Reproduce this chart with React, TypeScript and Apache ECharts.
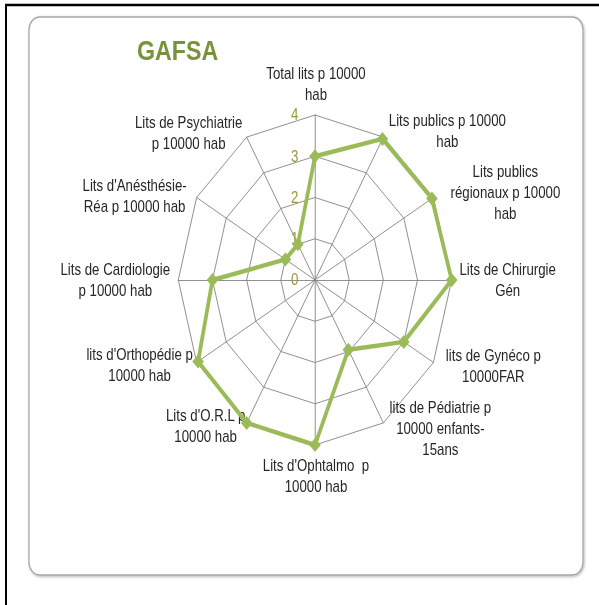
import React, { useEffect, useRef } from "react";
import * as echarts from "echarts";

// ---- data (reference order, clockwise from the top) ----
const categories = [
  "Total lits p 10000\nhab",
  "Lits publics p 10000\nhab",
  "Lits publics\nrégionaux p 10000\nhab",
  "Lits de Chirurgie\nGén",
  "lits de Gynéco p\n10000FAR",
  "lits de Pédiatrie p\n10000 enfants-\n15ans",
  "Lits d'Ophtalmo  p\n10000 hab",
  "Lits d'O.R.L p\n10000 hab",
  "lits d'Orthopédie p\n10000 hab",
  "Lits de Cardiologie\np 10000 hab",
  "Lits d'Anésthésie-\nRéa p 10000 hab",
  "Lits de Psychiatrie\np 10000 hab",
];
const values = [3.0, 3.95, 3.95, 4.0, 3.0, 1.95, 4.0, 4.0, 3.95, 3.0, 1.0, 1.0];
const tickLabels = ["0", "1", "2", "3", "4"];
const axisMax = 4;
const title = "GAFSA";

// ---- layout (label centre offsets from each axis end, in page px) ----
const labelOffsets: [number, number][] = [
  [1, -31], [64, -6], [72, -4.5], [56, 1], [60, 3.5], [57, 6],
  [1, 31], [-41, 3.5], [-57, 2.5], [-63, 1], [-62, -1.5], [-58, -4],
];

const S = 0.8285; // horizontal squeeze of the reference
const W = 599 / S;
const X = (px: number) => px / S;

export default function App() {
  const ref = useRef<HTMLDivElement>(null);
  useEffect(() => {
    if (!ref.current) return;
    const chart = echarts.init(ref.current, null, { renderer: "svg" });
    const n = categories.length;
    // ECharts lays radar axes counter-clockwise; map so the picture runs clockwise
    const order = Array.from({ length: n }, (_, k) => (n - k) % n);
    const indicator = order.map((ri, k) => {
      const [dx, dy] = labelOffsets[ri];
      const th = (ri * 2 * Math.PI) / n; // clockwise from top
      const c = Math.cos(th);
      const sn = Math.sin(th);
      const gap = Math.abs(c) > 0.2 ? -dy / c : 0;
      const restX = X(dx) - gap * sn;
      const pad = [0, restX < 0 ? -2 * restX : 0, 0, restX > 0 ? 2 * restX : 0];
      const ind: any = {
        name: categories[ri],
        min: 0,
        max: axisMax,
        nameGap: gap,
        nameTextStyle: { align: "center", verticalAlign: "middle", padding: pad },
      };
      if (k === 0) {
        ind.axisLabel = {
          show: true,
          color: "#9a983a",
          fontSize: 16,
          fontFamily: "Liberation Sans, Arial, sans-serif",
          margin: 20,
          formatter: (v: number) => tickLabels[Math.round(v)] ?? "",
        };
      }
      return ind;
    });
    chart.setOption({
      animation: false,
      backgroundColor: "#fff",
      title: {
        text: title,
        left: X(137),
        top: 36,
        padding: 0,
        textStyle: {
          color: "#77933c",
          fontSize: 28,
          fontWeight: "bold",
          fontFamily: "Liberation Sans, Arial, sans-serif",
        },
      },
      graphic: [
        {
          type: "rect",
          z: -10,
          shape: { x: X(6), y: 5, width: 900, height: 800 },
          style: { fill: "none", stroke: "#000", lineWidth: 2.4 },
        },
        {
          type: "rect",
          z: -9,
          shape: { x: X(29), y: 17, width: X(554), height: 558, r: 13 },
          style: {
            fill: "#fff",
            stroke: "#a6a6a6",
            lineWidth: 1.5,
            shadowBlur: 3,
            shadowColor: "rgba(0,0,0,0.3)",
            shadowOffsetX: 1,
            shadowOffsetY: 1,
          },
        },
      ],
      radar: {
        center: [X(315), 280],
        radius: 165,
        startAngle: 90,
        splitNumber: 4,
        shape: "polygon",
        nameGap: 0,
        indicator,
        axisName: {
          color: "#262626",
          fontSize: 16,
          lineHeight: 21,
          fontFamily: "Liberation Sans, Arial, sans-serif",
        },
        axisLabel: { show: false },
        axisTick: { show: false },
        axisLine: { lineStyle: { color: "#868686", width: 1 } },
        splitLine: { lineStyle: { color: "#868686", width: 1 } },
        splitArea: { show: false },
      },
      series: [
        {
          type: "radar",
          symbol: "diamond",
          symbolSize: 14,
          lineStyle: { color: "#9bbb59", width: 4.5 },
          itemStyle: { color: "#9bbb59" },
          data: [{ value: order.map((ri) => values[ri]), name: title }],
        },
      ],
    });
    return () => chart.dispose();
  }, []);
  return (
    <div
      style={{
        position: "fixed",
        left: 0,
        top: 0,
        width: 599,
        height: 605,
        overflow: "hidden",
        background: "#fff",
      }}
    >
      <div
        ref={ref}
        style={{ width: W, height: 605, transform: `scaleX(${S})`, transformOrigin: "0 0" }}
      />
    </div>
  );
}
